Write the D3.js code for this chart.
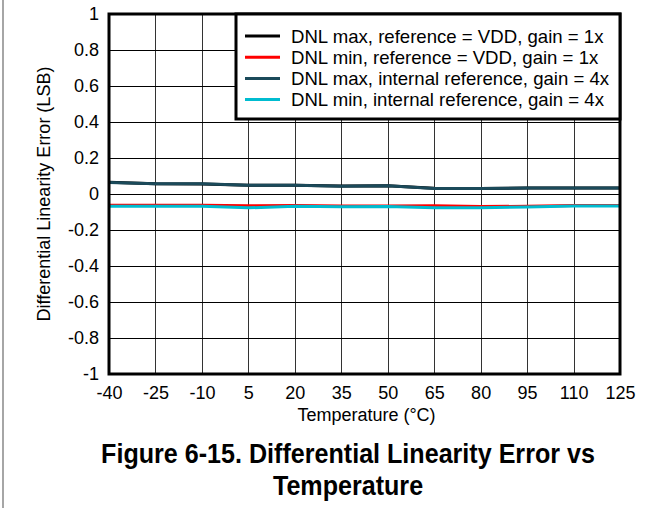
<!DOCTYPE html>
<html><head><meta charset="utf-8">
<script src="https://cdn.jsdelivr.net/npm/d3@7"></script>
<style>body{margin:0;background:#fff;}svg{display:block;font-family:"Liberation Sans",Arial,sans-serif;}</style>
</head><body><svg id="c" width="661" height="508"></svg>
<script>
const temps = [-40,-25,-10,5,20,35,50,65,80,95,110,125];
const xTicks = [-40,-25,-10,5,20,35,50,65,80,95,110,125];
const yTicks = [-1,-0.8,-0.6,-0.4,-0.2,0,0.2,0.4,0.6,0.8,1];
const dnlMaxVdd = [0.065,0.057,0.056,0.049,0.049,0.045,0.046,0.032,0.031,0.033,0.034,0.033];
const dnlMinVdd = [-0.062,-0.063,-0.063,-0.065,-0.064,-0.066,-0.066,-0.065,-0.070,-0.068,-0.064,-0.064];
const dnlMaxInt = [0.064,0.057,0.057,0.048,0.049,0.043,0.046,0.030,0.030,0.033,0.033,0.033];
const dnlMinInt = [-0.068,-0.068,-0.068,-0.077,-0.068,-0.071,-0.070,-0.076,-0.076,-0.072,-0.066,-0.066];
const seriesNames = ["DNL max, reference = VDD, gain = 1x","DNL min, reference = VDD, gain = 1x","DNL max, internal reference, gain = 4x","DNL min, internal reference, gain = 4x"];
const seriesColors = ["#000000","#ff0000","#1b4a5a","#00bcd0"];
const seriesData = [dnlMaxVdd,dnlMinVdd,dnlMaxInt,dnlMinInt];

const svg = d3.select("#c");
const L=109,R=620,T=14,B=374;
const FS="18px";
const x = d3.scaleLinear().domain([-40,125]).range([L,R]);
const y = d3.scaleLinear().domain([-1,1]).range([B,T]);

// page border line
svg.append("line").attr("x1",3).attr("x2",3).attr("y1",0).attr("y2",508).attr("stroke","#888").attr("stroke-width",1.5);

// grid
const g = svg.append("g");
g.selectAll(".vg").data(xTicks.slice(1,-1)).join("line")
 .attr("x1",d=>Math.round(x(d))+0.5).attr("x2",d=>Math.round(x(d))+0.5).attr("y1",T).attr("y2",B)
 .attr("stroke","#333").attr("stroke-width",1);
g.selectAll(".hg").data(yTicks.slice(1,-1)).join("line")
 .attr("y1",d=>Math.round(y(d))+0.5).attr("y2",d=>Math.round(y(d))+0.5).attr("x1",L).attr("x2",R)
 .attr("stroke","#000").attr("stroke-width",1);

// axes
const xa = svg.append("g").attr("transform",`translate(0,${B})`).call(d3.axisBottom(x).tickValues(xTicks).tickSize(0).tickPadding(12).tickFormat(d=>String(d)));
xa.select(".domain").remove();
xa.selectAll("text").attr("font-size",FS).attr("fill","#000").attr("font-family","Liberation Sans, Arial, sans-serif");
const ya = svg.append("g").attr("transform",`translate(${L},0)`).call(d3.axisLeft(y).tickValues(yTicks).tickSize(0).tickPadding(10).tickFormat(d=>String(d)));
ya.select(".domain").remove();
ya.selectAll("text").attr("font-size",FS).attr("fill","#000").attr("font-family","Liberation Sans, Arial, sans-serif");

// lines
const line = d3.line().x((d,i)=>x(temps[i])).y(d=>y(d));
seriesData.forEach((s,i)=>{
  svg.append("path").datum(s).attr("d",line).attr("fill","none").attr("stroke",seriesColors[i]).attr("stroke-width",3);
});

// frame
svg.append("rect").attr("x",L).attr("y",T).attr("width",R-L).attr("height",B-T).attr("fill","none").attr("stroke","#000").attr("stroke-width",3);

// legend
const lg = svg.append("g");
lg.append("rect").attr("x",236).attr("y",T).attr("width",R-236).attr("height",105).attr("fill","#fff").attr("stroke","#000").attr("stroke-width",3);
seriesNames.forEach((n,i)=>{
  const yy = 36 + i*21.2;
  lg.append("line").attr("x1",245).attr("x2",280).attr("y1",yy).attr("y2",yy).attr("stroke",seriesColors[i]).attr("stroke-width",3);
  lg.append("text").attr("x",291).attr("y",yy+6.5).attr("font-size","18.6px").attr("fill","#000").text(n);
});

// titles
svg.append("text").attr("x",(L+R)/2+2).attr("y",421).attr("text-anchor","middle").attr("font-size",FS).text("Temperature (°C)");
svg.append("text").attr("transform",`translate(50,${(T+B)/2}) rotate(-90)`).attr("text-anchor","middle").attr("font-size",FS).text("Differential Linearity Error (LSB)");
const cap = svg.append("g").attr("transform","translate(348,0) scale(0.93,1)");
cap.append("text").attr("x",0).attr("y",463).attr("text-anchor","middle").attr("font-size","27px").attr("font-weight","bold").text("Figure 6-15. Differential Linearity Error vs");
cap.append("text").attr("x",0).attr("y",495).attr("text-anchor","middle").attr("font-size","27px").attr("font-weight","bold").text("Temperature");
</script></body></html>
